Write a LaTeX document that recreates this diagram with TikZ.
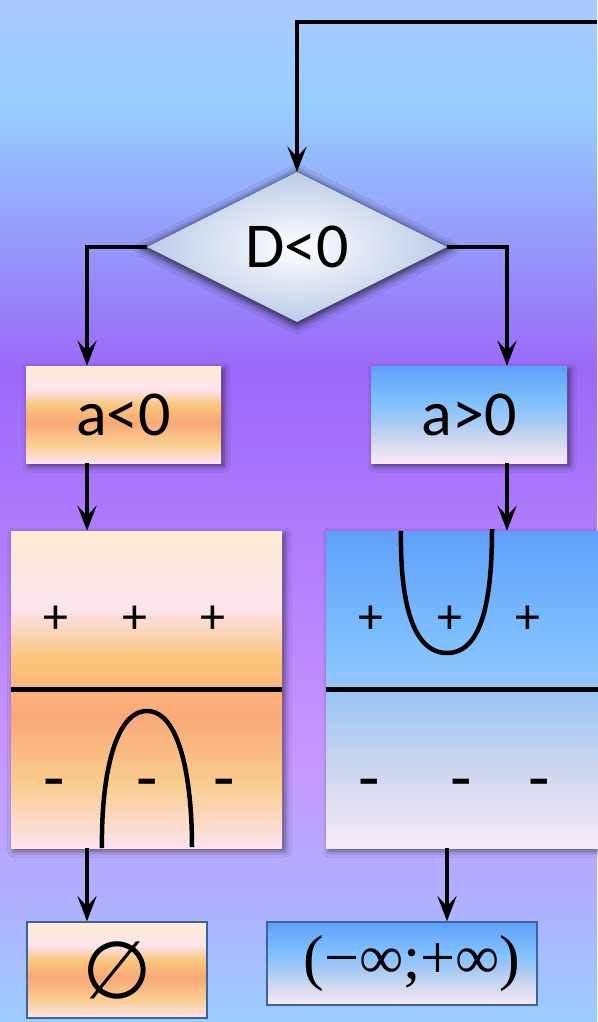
\documentclass[tikz,border=0pt]{standalone}
\usepackage{fontspec}
\setmainfont{Carlito}
\newfontfamily\infont{Liberation Serif}
\newfontfamily\symfont{DejaVu Sans}
\usetikzlibrary{shapes.geometric,shadows.blur,arrows.meta}

% background colours (top to bottom)
\definecolor{bgA}{RGB}{170,202,255}
\definecolor{bgB}{RGB}{150,205,255}
\definecolor{bgC}{RGB}{150,150,250}
\definecolor{bgD}{RGB}{156,104,250}
\definecolor{bgE}{RGB}{200,150,255}
\definecolor{bgF}{RGB}{176,176,255}
\definecolor{bgG}{RGB}{156,205,255}
% orange gradient
\definecolor{orC}{RGB}{252,236,210}
\definecolor{orP}{RGB}{253,228,238}
\definecolor{orY}{RGB}{249,198,125}
\definecolor{orS}{RGB}{249,168,120}
\definecolor{orY2}{RGB}{250,205,142}
% blue gradient
\definecolor{blA}{RGB}{94,160,250}
\definecolor{blB}{RGB}{130,194,255}
\definecolor{blC}{RGB}{162,200,245}
\definecolor{blD}{RGB}{205,215,238}
\definecolor{blE}{RGB}{248,234,248}
% diamond
\definecolor{diaOut}{RGB}{188,204,232}
\definecolor{frame}{RGB}{60,100,150}

\pgfdeclareverticalshading{bgshade}{100bp}{color(0bp)=(bgG); color(25bp)=(bgG); color(30.97bp)=(bgF); color(38.31bp)=(bgE); color(56.9bp)=(bgD); color(62.77bp)=(bgC); color(69.62bp)=(bgB); color(75bp)=(bgA); color(100bp)=(bgA)}
\pgfdeclareverticalshading{orgrad}{100bp}{color(0bp)=(orP); color(25bp)=(orP); color(35bp)=(orY2); color(46bp)=(orS); color(55bp)=(orY); color(63bp)=(orP); color(75bp)=(orC); color(100bp)=(orC)}
\pgfdeclareverticalshading{blgrad}{100bp}{color(0bp)=(blE); color(25bp)=(blE); color(37.5bp)=(blD); color(47.5bp)=(blC); color(56bp)=(blB); color(75bp)=(blA); color(100bp)=(blA)}

\tikzset{
  bigtext/.style={font=\fontsize{64}{70}\selectfont},
  boxshadow/.style={blur shadow={shadow xshift=3pt, shadow yshift=-3pt, shadow blur radius=6pt, shadow opacity=55}},
  obox/.style={rectangle, inner sep=0pt, shade, shading=orgrad, boxshadow, bigtext},
  bbox/.style={rectangle, inner sep=0pt, shade, shading=blgrad, boxshadow, bigtext},
  decision/.style={diamond, aspect=2, minimum width=300pt, minimum height=150pt, inner sep=0pt,
    shade, shading=radial, inner color=white, outer color=diaOut,
    blur shadow={shadow xshift=0pt, shadow yshift=-2pt, shadow scale=1.03, shadow blur radius=7pt, shadow opacity=70},
    bigtext},
  resbox/.style={rectangle, inner sep=0pt, draw=frame, line width=1.5pt},
  arr/.style={line width=3.8pt, -{Stealth[length=25pt,width=19pt,inset=10pt]}},
  curveline/.style={line width=4.5pt},
  axisline/.style={line width=4.5pt},
  plus/.style={font=\fontsize{50}{50}\selectfont},
  minus/.style={font=\fontsize{70}{70}\selectfont},
}

\begin{document}
\begin{tikzpicture}[x=1pt,y=-1pt]
\useasboundingbox (0,0) rectangle (597,1022);
\fill[shading=bgshade] (0,0) rectangle (597,1022);

\coordinate (start) at (597,22);
\coordinate (xl) at (87,0);
\coordinate (xr) at (507,0);
\coordinate (xb) at (447,0);

\node[decision] (dia) at (297,247) {D<0};
\node[obox, minimum width=195pt, minimum height=97pt] (alt) at (123.5,414.5) {a<0};
\node[bbox, minimum width=196pt, minimum height=97pt] (agt) at (469,414.5) {a>0};
\node[obox, minimum width=271pt, minimum height=317pt] (bigl) at (146.5,689.5) {};
\node[bbox, minimum width=276pt, minimum height=317pt] (bigr) at (464,689.5) {};
\node[resbox, shade, shading=orgrad, minimum width=180pt, minimum height=96pt] (empty) at (117,970) {\symfont\fontsize{80}{80}\selectfont ∅};
\node[resbox, shade, shading=blgrad, minimum width=270pt, minimum height=83pt] (interval) at (402,963.5)
  {\hspace{20pt}\infont\fontsize{62}{62}\selectfont (−∞;+∞)};

% axes
\draw[axisline] (bigl.west) -- (bigl.east);
\draw[axisline] (bigr.west) -- (bigr.east);

% signs, left box
\node[plus] (pl1) at (56,620) {+};
\node[plus] (pl2) at (135,620) {+};
\node[plus] (pl3) at (213,620) {+};
\node[minus] (ml1) at (54,790) {-};
\node[minus] (ml2) at (147,790) {-};
\node[minus] (ml3) at (224,790) {-};
% signs, right box
\node[plus] (pr1) at (371,620) {+};
\node[plus] (pr2) at (450,620) {+};
\node[plus] (pr3) at (528,620) {+};
\node[minus] (mr1) at (369,790) {-};
\node[minus] (mr2) at (461,790) {-};
\node[minus] (mr3) at (539,790) {-};

% parabolas
\draw[curveline] (102,848) .. controls (101,780) and (114,711) .. (147,711)
                 .. controls (180,711) and (192,780) .. (192,847);
\draw[curveline] (401,531) .. controls (400,600) and (412,653) .. (447,653)
                 .. controls (482,653) and (492,600) .. (492,529);

% connectors
\draw[arr] (start) -| (dia.north);
\draw[arr] (dia.west) -| (alt.north -| xl);
\draw[arr] (dia.east) -| (agt.north -| xr);
\draw[arr] (alt.south -| xl) -- (bigl.north -| xl);
\draw[arr] (agt.south -| xr) -- (bigr.north -| xr);
\draw[arr] (bigl.south -| xl) -- (empty.north -| xl);
\draw[arr] (bigr.south -| xb) -- (interval.north -| xb);
\end{tikzpicture}
\end{document}
